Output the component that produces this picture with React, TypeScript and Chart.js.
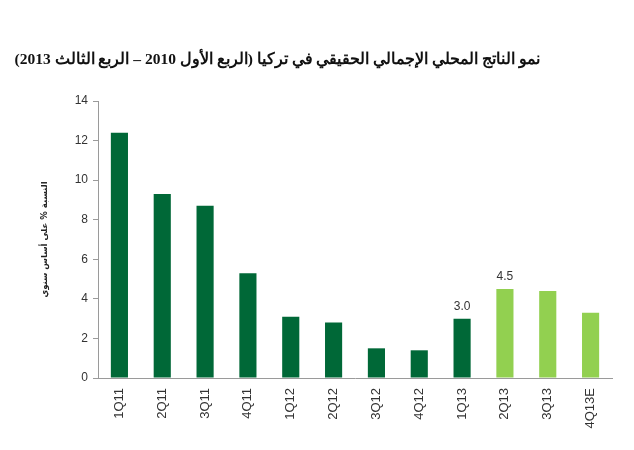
import React, { useEffect, useRef } from "react";
import { Chart, registerables } from "chart.js";

Chart.register(...registerables);

const TITLE = "نمو الناتج المحلي الإجمالي الحقيقي في تركيا (الربع الأول 2010 – الربع الثالث 2013)";
const Y_TITLE = "النسبة % على أساس سنوي";
const categories = ["1Q11", "2Q11", "3Q11", "4Q11", "1Q12", "2Q12", "3Q12", "4Q12", "1Q13", "2Q13", "3Q13", "4Q13E"];
const values = [12.4, 9.3, 8.7, 5.3, 3.1, 2.8, 1.5, 1.4, 3.0, 4.5, 4.4, 3.3];
const isForecast = [false, false, false, false, false, false, false, false, false, true, true, true];
const labelledIndices = [8, 9];
const yTicks = [0, 2, 4, 6, 8, 10, 12, 14];

const DARK = "#006837";
const LIGHT = "#92D050";

const valueLabels = {
  id: "valueLabels",
  afterDatasetsDraw(chart: any) {
    const ctx = chart.ctx;
    const meta = chart.getDatasetMeta(0);
    ctx.save();
    ctx.font = "12px 'Liberation Sans', Arial, sans-serif";
    ctx.fillStyle = "#333333";
    ctx.textAlign = "center";
    ctx.textBaseline = "bottom";
    labelledIndices.forEach((i) => {
      const el = meta.data[i];
      ctx.fillText(values[i].toFixed(1), el.x, el.y - 6);
    });
    ctx.restore();
  },
};

export default function App() {
  const ref = useRef<HTMLCanvasElement>(null);
  useEffect(() => {
    if (!ref.current) return;
    const chart = new Chart(ref.current, {
      type: "bar",
      data: {
        labels: categories,
        datasets: [
          {
            data: values,
            backgroundColor: isForecast.map((f) => (f ? LIGHT : DARK)),
            barPercentage: 0.4,
            categoryPercentage: 1,
          },
        ],
      },
      options: {
        animation: false,
        responsive: false,
        maintainAspectRatio: false,
        layout: { padding: { top: 93, right: 14, bottom: 0, left: 0 } },
        plugins: { legend: { display: false }, tooltip: { enabled: false } },
        scales: {
          x: {
            grid: { display: false },
            border: { display: true, color: "#9a9a9a", width: 1 },
            ticks: {
              minRotation: 90,
              maxRotation: 90,
              color: "#333333",
              font: { family: "'Liberation Sans', Arial, sans-serif", size: 13 },
              padding: 2,
            },
            afterFit(scale: any) {
              scale.height = 64;
            },
          },
          y: {
            min: 0,
            max: 14,
            afterBuildTicks(scale: any) {
              scale.ticks = yTicks.map((v) => ({ value: v }));
            },
            grid: { drawOnChartArea: false, drawTicks: true, tickLength: 5, color: "#9a9a9a" },
            border: { display: true, color: "#9a9a9a", width: 1 },
            ticks: {
              color: "#333333",
              font: { family: "'Liberation Sans', Arial, sans-serif", size: 12 },
              padding: 5,
            },
            title: {
              display: true,
              text: Y_TITLE,
              color: "#222222",
              font: { family: "'DejaVu Sans', sans-serif", size: 8.5, weight: "bold" },
              padding: { top: 32, bottom: 0 },
            },
            afterFit(scale: any) {
              scale.width = 90;
            },
          },
        },
      },
      plugins: [valueLabels],
    });
    return () => chart.destroy();
  }, []);

  return (
    <div style={{ position: "relative", width: 618, height: 434 }}>
      <div
        dir="rtl"
        style={{
          position: "absolute",
          top: 42,
          right: 86,
          whiteSpace: "nowrap",
          fontFamily: "'Liberation Serif', 'Times New Roman', serif",
          fontWeight: "bold",
          fontSize: 15.5,
          color: "#111",
        }}
      >
        {TITLE}
      </div>
      <canvas ref={ref} width={618} height={434} style={{ display: "block" }} />
    </div>
  );
}
